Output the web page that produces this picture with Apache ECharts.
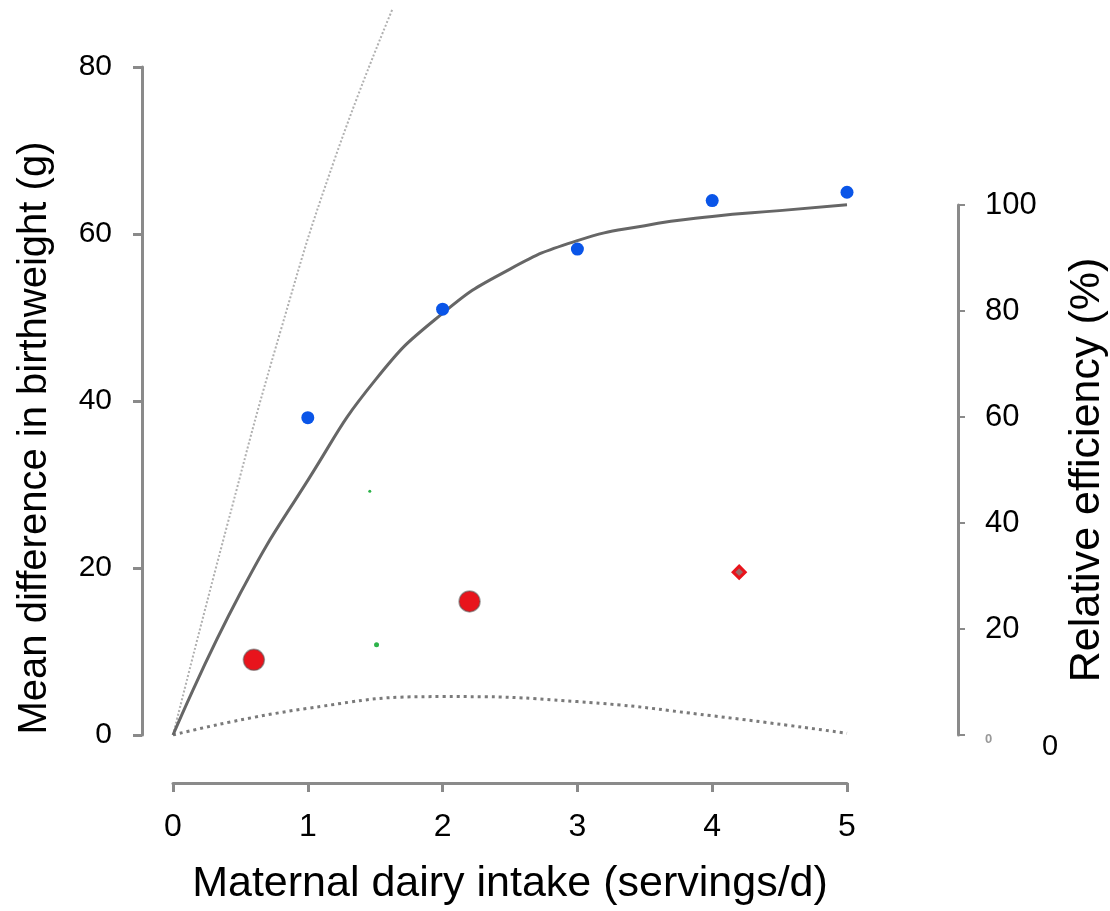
<!DOCTYPE html>
<html>
<head>
<meta charset="utf-8">
<script src="https://cdn.jsdelivr.net/npm/echarts@6/dist/echarts.min.js"></script>
<style>
  html, body { margin: 0; padding: 0; background: #fff; }
  #chart { width: 1110px; height: 911px; }
</style>
</head>
<body>
<div id="chart"></div>
<script>
// observed mean differences (g) by dairy intake
const observedX = [1, 2, 3, 4, 5];
const observedY = [38, 51, 58.2, 64, 65];

// large red points
const redBigX = [0.6, 2.2];
const redBigY = [9, 16];
// small red diamond
const redSmallX = [4.2];
const redSmallY = [19.5];
// tiny green points
const greenX = [1.46, 1.51];
const greenY = [29.2, 10.8];

// fitted curve (solid)
const fitX = [0, 0.5, 1, 1.5, 2, 2.5, 3, 3.5, 4, 4.5, 5];
const fitY = [0, 17, 30.5, 42.5, 50.5, 55.8, 59.2, 61, 62.1, 62.8, 63.5];

// steep light reference curve
const refX = [0, 0.4, 0.8, 1.2, 1.63];
const refY = [0, 25, 48.5, 69, 87];

// dotted curve near the baseline
const dotX = [0, 1, 2, 3, 4, 5];
const dotY = [0, 3.2, 4.6, 4.0, 2.3, 0.2];

// tick labels
const leftTicks = [0, 20, 40, 60, 80];
const rightTicks = [0, 20, 40, 60, 80, 100];

const zip = (xs, ys) => xs.map((x, i) => [x, ys[i]]);

const FONT = "Liberation Sans, Arial, sans-serif";
const AXIS_COLOR = "#8a8a8a";

const chart = echarts.init(document.getElementById("chart"));

const option = {
  backgroundColor: "#fff",
  animation: false,
  textStyle: { fontFamily: FONT },
  grid: [
    { left: 173, right: 263, top: 67, bottom: 176, outerBoundsMode: "none" },
    { left: 173, right: 152, top: 205, bottom: 176, outerBoundsMode: "none" },
  ],
  xAxis: [
    {
      gridIndex: 0,
      type: "value",
      min: 0,
      max: 5,
      interval: 1,
      offset: 48,
      name: "Maternal dairy intake (servings/d)",
      nameLocation: "middle",
      nameGap: 80,
      nameTextStyle: { fontSize: 43, color: "#000", fontFamily: FONT },
      axisLine: { show: true, onZero: false, lineStyle: { color: AXIS_COLOR, width: 3 } },
      axisTick: { show: true, length: 9, lineStyle: { color: AXIS_COLOR, width: 3 } },
      axisLabel: { fontSize: 32, color: "#000", margin: 28, fontFamily: FONT },
      splitLine: { show: false },
    },
    {
      gridIndex: 1,
      type: "value",
      min: 0,
      max: 5,
      show: false,
    },
  ],
  yAxis: [
    {
      gridIndex: 0,
      type: "value",
      min: 0,
      max: 80,
      interval: 20,
      offset: 31,
      position: "left",
      name: "Mean difference in birthweight (g)",
      nameLocation: "middle",
      nameGap: 87,
      nameRotate: 90,
      nameTextStyle: { fontSize: 40, color: "#000", fontFamily: FONT, padding: [0, 74, 0, 0] },
      axisLine: { show: true, onZero: false, lineStyle: { color: AXIS_COLOR, width: 3 } },
      axisTick: { show: true, length: 9, lineStyle: { color: AXIS_COLOR, width: 3 } },
      axisLabel: {
        fontSize: 30,
        color: "#000",
        margin: 30,
        fontFamily: FONT,
        formatter: (v) => (leftTicks.includes(v) ? String(v) : ""),
      },
      splitLine: { show: false },
    },
    {
      gridIndex: 1,
      type: "value",
      min: 0,
      max: 100,
      interval: 20,
      position: "right",
      name: "Relative efficiency (%)",
      nameLocation: "middle",
      nameGap: 108,
      nameRotate: 90,
      nameTextStyle: { fontSize: 43, color: "#000", fontFamily: FONT },
      axisLine: { show: true, onZero: false, lineStyle: { color: AXIS_COLOR, width: 3 } },
      axisTick: { show: true, inside: false, length: 7, lineStyle: { color: AXIS_COLOR, width: 2 } },
      axisLabel: {
        fontSize: 31,
        color: "#000",
        margin: 27,
        fontFamily: FONT,
        formatter: (v) => (v === 0 ? "{s|0}" : rightTicks.includes(v) ? String(v) : ""),
        rich: { s: { fontSize: 13, color: "#999", fontWeight: "bold", padding: [8, 0, 0, 0] } },
      },
      splitLine: { show: false },
    },
  ],
  graphic: [
    {
      type: "text",
      left: 1042,
      top: 732,
      style: { text: "0", fontSize: 29, fill: "#000", fontFamily: FONT },
    },
  ],
  series: [
    {
      name: "reference",
      type: "line",
      xAxisIndex: 0,
      yAxisIndex: 0,
      data: zip(refX, refY),
      smooth: true,
      clip: false,
      showSymbol: false,
      lineStyle: { color: "#b0b0b0", width: 2, type: [2, 2] },
      z: 1,
    },
    {
      name: "dotted",
      type: "line",
      xAxisIndex: 0,
      yAxisIndex: 0,
      data: zip(dotX, dotY),
      smooth: true,
      showSymbol: false,
      lineStyle: { color: "#7a7a7a", width: 3, type: [3, 4] },
      z: 1,
    },
    {
      name: "fit",
      type: "line",
      xAxisIndex: 0,
      yAxisIndex: 0,
      data: zip(fitX, fitY),
      smooth: true,
      showSymbol: false,
      lineStyle: { color: "#666", width: 3 },
      z: 2,
    },
    {
      name: "observed",
      type: "scatter",
      xAxisIndex: 0,
      yAxisIndex: 0,
      data: zip(observedX, observedY),
      symbol: "circle",
      symbolSize: 13,
      itemStyle: { color: "#0a55e8", opacity: 1 },
      z: 3,
    },
    {
      name: "red large",
      type: "scatter",
      xAxisIndex: 0,
      yAxisIndex: 0,
      data: zip(redBigX, redBigY),
      symbol: "circle",
      symbolSize: 21,
      itemStyle: { color: "#e8141c", opacity: 1, borderColor: "rgba(90,90,90,0.55)", borderWidth: 1.5 },
      z: 3,
    },
    {
      name: "red small",
      type: "scatter",
      xAxisIndex: 0,
      yAxisIndex: 0,
      data: zip(redSmallX, redSmallY),
      symbol: "diamond",
      symbolSize: 12,
      itemStyle: { color: "#9a6a6a", opacity: 1, borderColor: "#e8141c", borderWidth: 3 },
      z: 3,
    },
    {
      name: "green",
      type: "scatter",
      xAxisIndex: 0,
      yAxisIndex: 0,
      data: zip(greenX, greenY),
      symbol: "circle",
      symbolSize: (val) => (val[1] > 20 ? 3 : 5),
      itemStyle: { color: "#2db34a", opacity: 1 },
      z: 3,
    },
  ],
};

chart.setOption(option);
</script>
</body>
</html>
